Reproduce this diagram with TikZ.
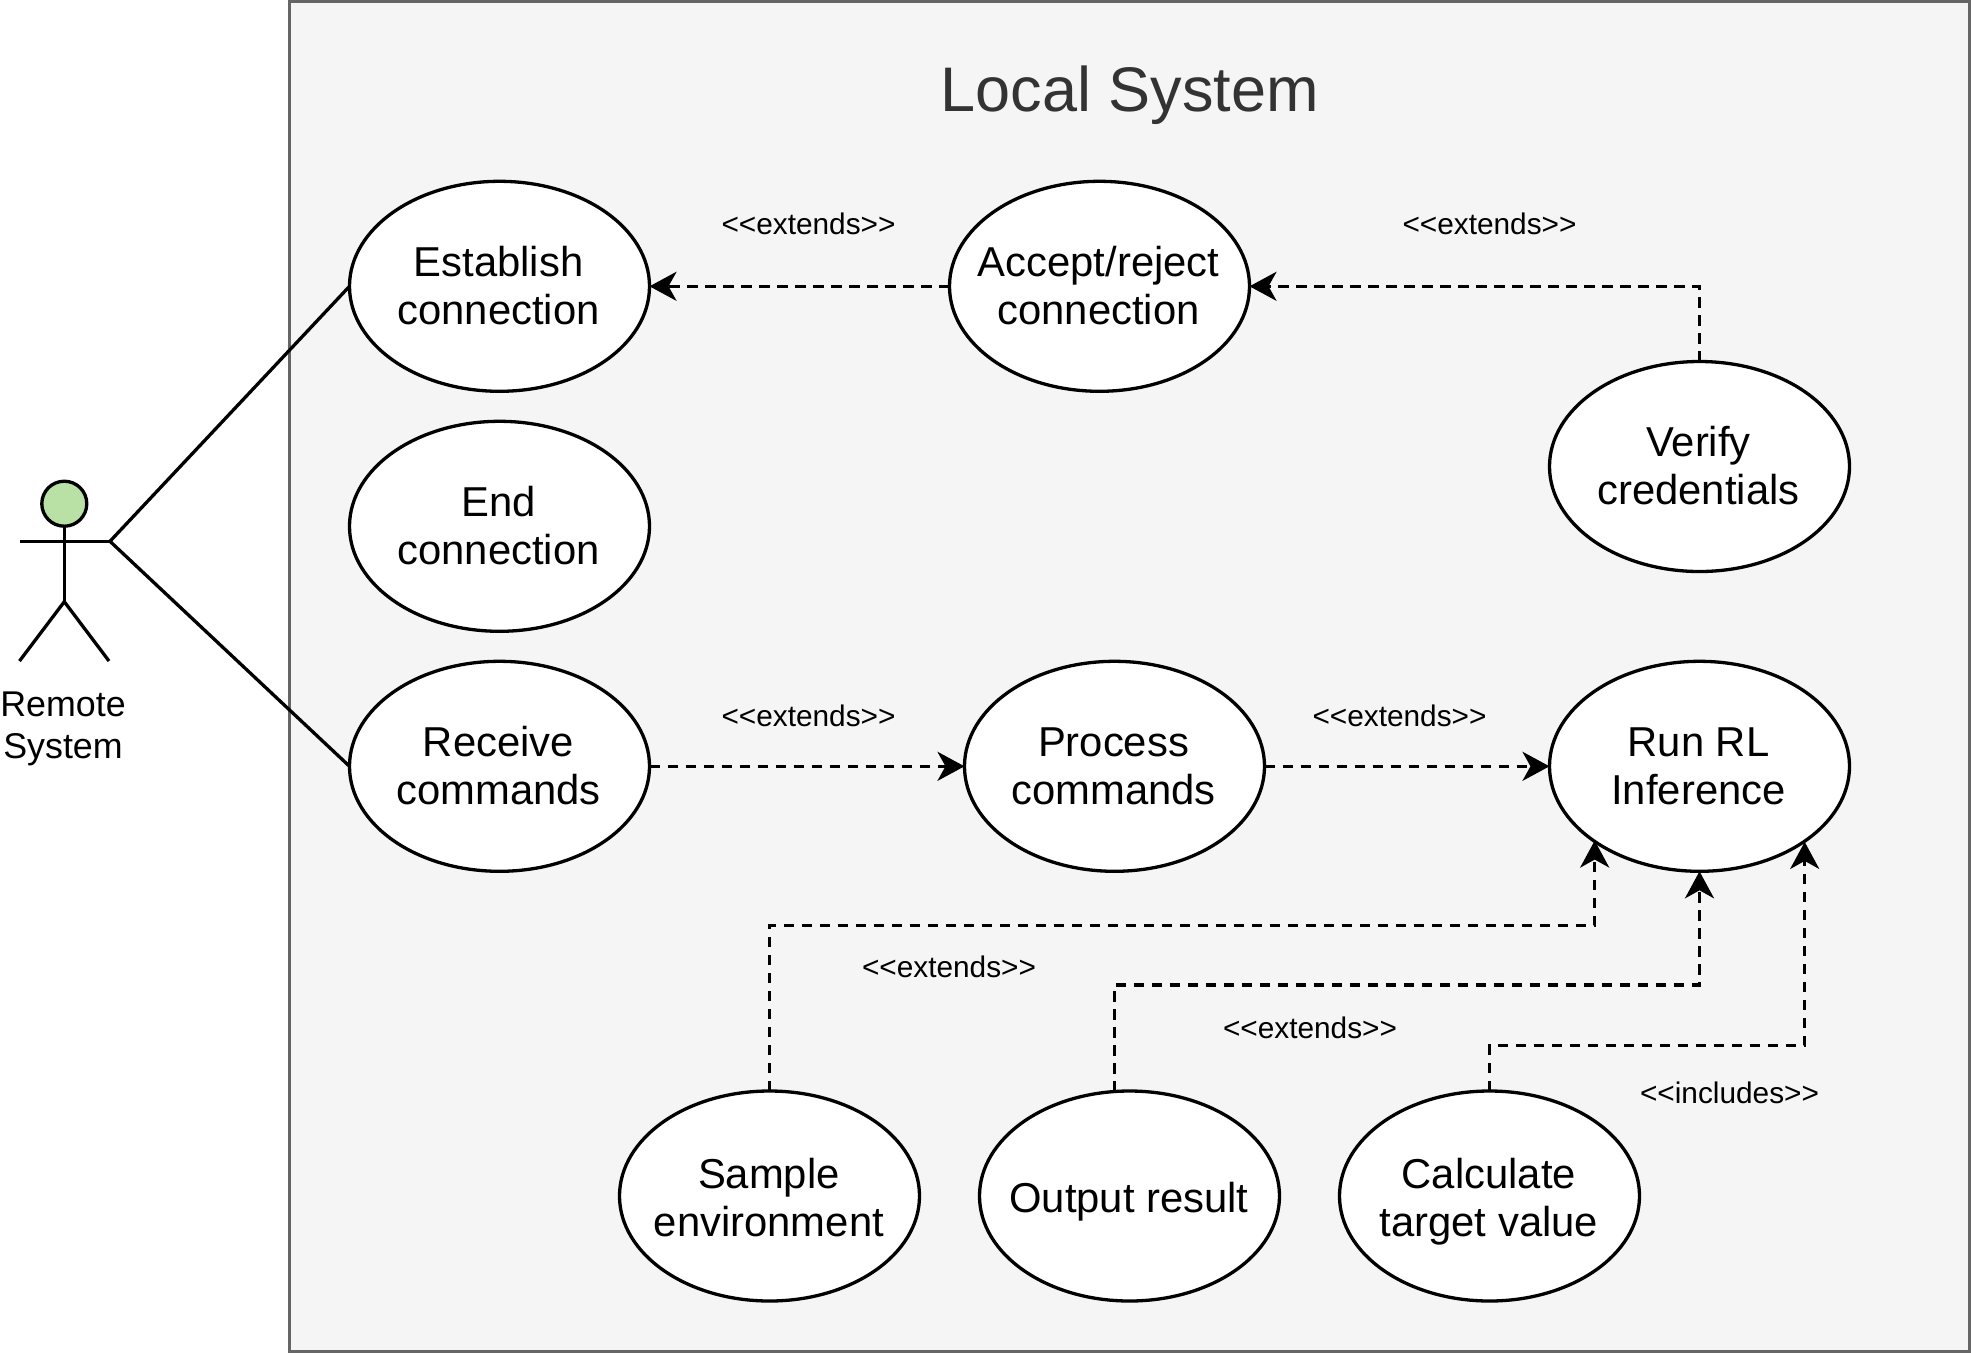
\documentclass[tikz,border=0pt]{standalone}
\usepackage{fontspec}
\setmainfont{Liberation Sans}
\usetikzlibrary{arrows.meta,shapes.geometric}
\definecolor{headfill}{HTML}{B9E0A5}
\definecolor{framefill}{HTML}{F5F5F5}
\definecolor{frameline}{HTML}{666666}
\definecolor{titlecol}{HTML}{333333}
\newcommand{\ucline}[1]{\strut #1}
\tikzset{
  usecase/.style={ellipse,draw=black,fill=white,line width=3.3pt,minimum width=300pt,minimum height=210pt,inner sep=0pt,outer sep=0pt},
  uctext/.style={align=center,text=black,inner sep=0pt,xshift=-1pt,yshift=-4.8pt,font=\fontsize{41.8}{48}\selectfont},
  uclow/.style={uctext,xshift=0.4pt,yshift=-2.2pt},
  tag/.style={anchor=base,inner sep=0pt,text=black,font=\fontsize{29.8}{36}\selectfont},
  assoc/.style={draw=black,line width=3.3pt},
  dep/.style={draw=black,line width=3.3pt,dash pattern=on 10.5pt off 7.5pt,-{Stealth[length=27pt,width=29pt,inset=8pt,sep=0pt]}},
  stick/.style={draw=black,line width=3.3pt}
}
\begin{document}
\begin{tikzpicture}[x=1pt,y=-1pt]
\useasboundingbox (0,0) rectangle (1971,1353);
\node[rectangle,draw=frameline,fill=framefill,line width=3.3pt,minimum width=1680pt,minimum height=1350pt,inner sep=0pt,outer sep=0pt,anchor=north west] (frame) at (289.5,1.5) {};
\node[anchor=base,inner sep=0pt,text=titlecol,font=\fontsize{63}{72}\selectfont] (title) at (1130,111.7) {Local System};

\node[usecase,label={[uctext]center:{\ucline{Establish}\\\ucline{connection}}}] (est) at (499.5,286.3) {};
\node[usecase,label={[uctext]center:{\ucline{End}\\\ucline{connection}}}] (endc) at (499.5,526.3) {};
\node[usecase,label={[uctext]center:{\ucline{Receive}\\\ucline{commands}}}] (rec) at (499.5,766.3) {};
\node[usecase,label={[uctext]center:{\ucline{Accept/reject}\\\ucline{connection}}}] (acc) at (1099.5,286.3) {};
\node[usecase,label={[uctext]center:{\ucline{Verify}\\\ucline{credentials}}}] (ver) at (1699.5,466.5) {};
\node[usecase,label={[uctext]center:{\ucline{Process}\\\ucline{commands}}}] (pro) at (1114.5,766.3) {};
\node[usecase,label={[uctext]center:{\ucline{Run RL}\\\ucline{Inference}}}] (run) at (1699.5,766.3) {};
\node[usecase,label={[uclow]center:{\ucline{Sample}\\\ucline{environment}}}] (sam) at (769.5,1196) {};
\node[usecase,label={[uclow]center:{\ucline{Output result}}}] (out) at (1129.5,1196) {};
\node[usecase,label={[uclow]center:{\ucline{Calculate}\\\ucline{target value}}}] (cal) at (1489.5,1196) {};

% actor
\node[circle,draw=black,fill=headfill,line width=3.3pt,minimum size=45pt,inner sep=0pt,outer sep=0pt] (head) at (64.3,503.7) {};
\coordinate (larm) at (19.5,541.3);
\coordinate (hand) at (110,541.3);
\coordinate (hip) at (64.3,601.7);
\coordinate (lfoot) at (19.5,661);
\coordinate (rfoot) at (109,661);
\draw[stick] (head.south) -- (hip);
\draw[stick] (larm) -- (hand);
\draw[stick,line join=miter] (lfoot) -- (hip) -- (rfoot);
\node[align=center,inner sep=0pt,anchor=base,text=black,font=\fontsize{35.8}{41.7}\selectfont] (actor) at (63,758.5) {Remote\\System};

\draw[assoc] (hand) -- (est.west);
\draw[assoc] (hand) -- (rec.west);

% dependencies
\draw[dep] (acc.west) -- (est.east);
\coordinate (c1) at (ver.north |- acc.east);
\draw[dep] (ver.north) -- (c1) -- (acc.east);
\draw[dep] (rec.east) -- (pro.west);
\draw[dep] (pro.east) -- (run.west);
\coordinate (j1) at (1594.7,925.3);
\draw[dep] (sam.north) |- (j1) -- (j1 |- run.215.5);
\coordinate (j2s) at (1114.3,1091.5);
\coordinate (j2) at (run.south |- 0,985);
\draw[dep] (j2s) |- (j2) -- (run.south);
\coordinate (j3) at (1804.7,1045.3);
\draw[dep] (cal.north) |- (j3) -- (j3 |- run.324.5);

% labels
\node[tag] (t1) at (808.5,234) {<{}<extends>{}>};
\node[tag] (t2) at (1489.5,234) {<{}<extends>{}>};
\node[tag] (t3) at (808.5,726) {<{}<extends>{}>};
\node[tag] (t4) at (1399.5,726) {<{}<extends>{}>};
\node[tag] (t5) at (949,977.7) {<{}<extends>{}>};
\node[tag] (t6) at (1310,1038) {<{}<extends>{}>};
\node[tag] (t7) at (1729.5,1103.5) {<{}<includes>{}>};
\end{tikzpicture}
\end{document}
